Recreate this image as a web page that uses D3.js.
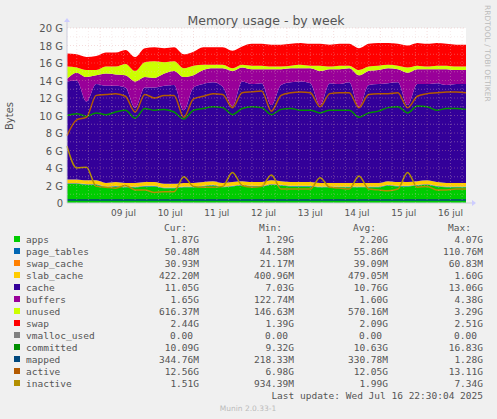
<!DOCTYPE html>
<html><head><meta charset="utf-8">
<script src="https://cdn.jsdelivr.net/npm/d3@7"></script>
<style>body{margin:0;background:#f0f0f0;font-family:"DejaVu Sans",sans-serif;}</style>
</head><body><svg id="chart"></svg>
<script>
// sample every 5h starting 08 jul 07:00
const startTime = new Date(2025, 6, 8, 7, 0);
const stepHours = 5;

const apps =       [2.2,2.2,2.1,2.1,1.8,1.9,1.8,1.8,1.9,1.9,1.7,1.7,1.8,1.8,1.9,2.0,1.8,1.9,2.0,1.9,1.9,2.1,2.0,1.9,1.9,1.9,1.8,1.8,1.8,1.8,1.8,1.8,1.8,2.0,1.9,1.9,2.0,2.1,1.9,1.8,1.8,1.8];
const pageTables = new Array(42).fill(0.05);
const swapCache =  new Array(42).fill(0.03);
const slabCache =  new Array(42).fill(0.42);
const cache =      [11.2,11.3,9.0,11.0,11.1,11.0,10.9,8.6,10.8,10.8,11.2,11.3,8.3,10.9,11.2,11.3,11.0,8.7,11.4,11.2,11.3,8.6,11.0,11.4,11.5,11.3,8.9,11.4,11.3,11.5,8.7,11.2,11.3,11.2,11.4,8.8,11.1,11.0,11.3,11.2,11.3,11.3];
const buffers =    [0.3,0.9,2.8,1.0,1.4,1.3,1.4,3.0,1.2,1.1,1.4,1.6,3.8,1.4,1.6,1.6,2.1,4.0,1.6,1.7,1.6,4.1,1.8,1.6,1.5,1.7,3.9,1.6,1.7,1.6,3.6,1.6,1.6,1.7,1.5,3.7,1.7,1.7,1.6,1.8,1.6,1.6];
const unused =     [1.4,0.6,0.8,0.6,0.8,0.9,1.3,1.2,1.7,1.9,1.3,1.1,1.0,1.1,0.6,0.4,0.4,0.3,0.3,0.4,0.4,0.3,0.3,0.3,0.4,0.3,0.6,0.3,0.4,0.3,0.6,0.5,0.5,0.4,0.4,0.6,0.4,0.3,0.4,0.4,0.4,0.4];
const swap =       [1.5,1.5,1.5,1.6,1.6,1.6,1.6,1.6,1.6,1.6,1.6,1.6,1.6,1.6,2.0,2.0,2.0,2.0,2.1,2.5,2.5,2.5,2.5,2.5,2.5,2.5,2.5,2.5,2.5,2.5,2.5,2.6,2.6,2.5,2.5,2.5,2.6,2.6,2.6,2.5,2.5,2.5];
const committed =  [10.0,10.2,9.9,10.3,10.1,10.4,10.6,9.7,10.8,10.6,10.7,10.4,9.6,10.6,10.8,11.0,10.9,10.1,10.8,11.0,10.9,10.1,10.7,10.8,10.6,10.6,10.3,10.6,10.6,10.6,9.8,10.3,10.5,10.9,11.0,10.3,11.1,11.0,10.6,10.8,10.8,10.7];
const mapped =     new Array(42).fill(0.35);
const active =     [7.7,9.5,9.8,12.3,12.4,12.5,12.2,10.4,12.4,12.0,12.3,12.3,9.8,11.9,12.2,12.5,12.4,10.9,12.6,12.7,12.8,10.5,12.3,12.6,12.7,12.6,11.0,12.5,12.6,12.6,10.9,12.4,12.5,12.5,12.6,10.9,12.2,12.5,12.6,12.7,12.7,12.6];
const inactive =   [6.5,4.0,4.1,1.9,1.8,1.7,2.0,1.5,1.5,1.2,1.3,1.3,3.0,1.9,1.8,1.8,1.9,3.5,2.0,1.8,1.9,3.2,1.6,1.6,1.6,1.6,2.9,1.8,1.7,1.6,3.1,1.6,1.5,1.4,1.6,3.5,1.8,1.9,1.5,1.5,1.6,1.6];

const stackNames = ["apps","page_tables","swap_cache","slab_cache","cache","buffers","unused","swap"];
const stackData = [apps,pageTables,swapCache,slabCache,cache,buffers,unused,swap];
const colors = {apps:"#00cc00",page_tables:"#0066b3",swap_cache:"#ff8000",slab_cache:"#ffcc00",cache:"#330099",buffers:"#990099",unused:"#ccff00",swap:"#ff0000",vmalloc_used:"#808080",committed:"#008f00",mapped:"#00487d",active:"#b35a00",inactive:"#b38f00"};

const legendNames = ["apps","page_tables","swap_cache","slab_cache","cache","buffers","unused","swap","vmalloc_used","committed","mapped","active","inactive"];
const legendCur = ["1.87G","50.48M","30.93M","422.20M","11.05G","1.65G","616.37M","2.44G","0.00","10.09G","344.76M","12.56G","1.51G"];
const legendMin = ["1.29G","44.58M","21.17M","400.96M","7.03G","122.74M","146.63M","1.39G","0.00","9.32G","218.33M","6.98G","934.39M"];
const legendAvg = ["2.20G","55.86M","39.09M","479.05M","10.76G","1.60G","570.16M","2.09G","0.00","10.63G","330.78M","12.05G","1.99G"];
const legendMax = ["4.07G","110.76M","60.83M","1.60G","13.06G","4.38G","3.29G","2.51G","0.00","16.83G","1.28G","13.11G","7.34G"];
const yTicks = [0,2,4,6,8,10,12,14,16,18,20];
const dayTicks = [9,10,11,12,13,14,15,16];

const W = 497, H = 419;
const pL = 67, pR = 466, pT = 28, pB = 203;
const svg = d3.select("#chart").attr("width", W).attr("height", H);
svg.append("rect").attr("width", W).attr("height", H).attr("fill", "#f0f0f0");

const times = apps.map((d, i) => new Date(startTime.getTime() + i * stepHours * 3600e3));
const x = d3.scaleTime([times[0], times[times.length - 1]], [pL, pR]);
const y = d3.scaleLinear([0, 20], [pB, pT]);

svg.append("rect").attr("x", pL).attr("y", pT).attr("width", pR - pL).attr("height", pB - pT).attr("fill", "#fff");

const rows = times.map((t, i) => {
    const r = {t};
    stackNames.forEach((n, k) => r[n] = stackData[k][i]);
    return r;
});
const series = d3.stack().keys(stackNames)(rows);
const area = d3.area().x(d => x(d.data.t)).y0(d => y(d[0])).y1(d => y(d[1])).curve(d3.curveMonotoneX);
svg.append("g").selectAll("path").data(series).join("path")
    .attr("d", area).attr("fill", d => colors[d.key]);

const lineSeries = [["committed", committed], ["mapped", mapped], ["active", active], ["inactive", inactive]];
const line = d3.line().x((d, i) => x(times[i])).y(d => y(d)).curve(d3.curveMonotoneX);
lineSeries.forEach(([n, vals]) => {
    svg.append("path").attr("d", line(vals)).attr("fill", "none").attr("stroke", colors[n]).attr("stroke-width", 1.5);
});

// grid on top (rrdtool draws it over the areas)
for (let g = 1; g <= 20; g++) {
    svg.append("line").attr("x1", pL).attr("x2", pR).attr("y1", y(g)).attr("y2", y(g))
        .attr("stroke", g % 2 ? "#e8c8c8" : "#e0a0a0").attr("stroke-opacity", 0.6).attr("stroke-dasharray", "1,2").attr("stroke-width", 0.6);
}
for (let h = 12; h < 220; h += 6) {
    const t = new Date(2025, 6, 8, h);
    if (x(t) <= pL || x(t) >= pR) continue;
    svg.append("line").attr("x1", x(t)).attr("x2", x(t)).attr("y1", pT).attr("y2", pB)
        .attr("stroke", h % 24 ? "#e8c8c8" : "#e0a0a0").attr("stroke-opacity", 0.6).attr("stroke-dasharray", "1,2").attr("stroke-width", 0.6);
}

// axes
svg.append("line").attr("x1", pL).attr("x2", pR + 6).attr("y1", pB).attr("y2", pB).attr("stroke", "#ccd").attr("stroke-width", 1);
svg.append("line").attr("x1", pL).attr("x2", pL).attr("y1", pB).attr("y2", pT - 6).attr("stroke", "#ccd").attr("stroke-width", 1);
svg.append("path").attr("d", `M${pR + 6},${pB - 3}L${pR + 10},${pB}L${pR + 6},${pB + 3}Z`).attr("fill", "#ccf");
svg.append("path").attr("d", `M${pL - 3},${pT - 6}L${pL},${pT - 10}L${pL + 3},${pT - 6}Z`).attr("fill", "#ccf");

const textColor = "#555";
yTicks.forEach(v => {
    svg.append("text").attr("x", pL - 4).attr("y", y(v) + 4).attr("text-anchor", "end")
        .attr("font-size", 10).attr("fill", textColor).text(v === 0 ? "0" : v + " G");
});
dayTicks.forEach(d => {
    const t = new Date(2025, 6, d, 12);
    svg.append("text").attr("x", x(t)).attr("y", pB + 13).attr("text-anchor", "middle")
        .attr("font-size", 9).attr("fill", textColor).text(String(d).padStart(2, "0") + " jul");
});

svg.append("text").attr("x", 266).attr("y", 25).attr("text-anchor", "middle").attr("font-size", 12.5).attr("fill", textColor).text("Memory usage - by week");
svg.append("text").attr("transform", "translate(13,116) rotate(-90)").attr("text-anchor", "middle").attr("font-size", 10).attr("fill", textColor).text("Bytes");
svg.append("text").attr("transform", "translate(485,5) rotate(90)").attr("font-size", 7.5).attr("fill", "#bbb").text("RRDTOOL / TOBI OETIKER");

// legend
const lg = svg.append("g").attr("font-size", 9.5).attr("font-family", "DejaVu Sans Mono").attr("fill", textColor);
const colX = [199, 294, 388, 483];
["Cur:", "Min:", "Avg:", "Max:"].forEach((h, k) => lg.append("text").attr("x", colX[k] - 12).attr("y", 231).attr("text-anchor", "end").text(h));
legendNames.forEach((n, i) => {
    const yy = 243 + i * 12;
    lg.append("rect").attr("x", 14).attr("y", yy - 7).attr("width", 6).attr("height", 6).attr("fill", colors[n]);
    lg.append("text").attr("x", 26).attr("y", yy).text(n);
    [legendCur, legendMin, legendAvg, legendMax].forEach((arr, k) =>
        lg.append("text").attr("x", colX[k] - (arr[i] === "0.00" ? 6 : 0)).attr("y", yy).attr("text-anchor", "end").text(arr[i]));
});
lg.append("text").attr("x", 483).attr("y", 399).attr("text-anchor", "end").text("Last update: Wed Jul 16 22:30:04 2025");
svg.append("text").attr("x", 248).attr("y", 411).attr("text-anchor", "middle").attr("font-size", 7.5).attr("fill", "#bbb").text("Munin 2.0.33-1");
</script></body></html>
